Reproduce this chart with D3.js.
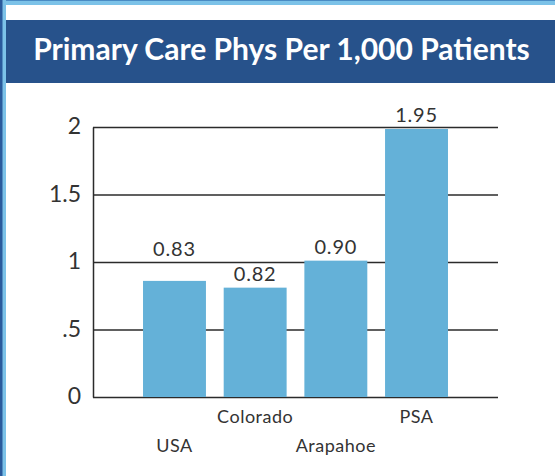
<!DOCTYPE html>
<html>
<head>
<meta charset="utf-8">
<script src="https://cdn.jsdelivr.net/npm/d3@7"></script>
<style>
  body { margin: 0; background: #fff; overflow: hidden; }
  svg { display: block; }
  text { font-family: Lato, 'Open Sans', sans-serif; }
</style>
</head>
<body>
<div id="chart"></div>
<script>
const categories = ['USA', 'Colorado', 'Arapahoe', 'PSA']
// bar heights as drawn in the picture
const values = [0.86, 0.81, 1.01, 1.985]
// value labels as printed above the bars
const valueLabels = ['0.83', '0.82', '0.90', '1.95']
const yTicks = [0, 0.5, 1, 1.5, 2]
const yTickLabels = ['0', '.5', '1', '1.5', '2']
const title = 'Primary Care Phys Per 1,000 Patients'

const width = 555
const height = 476
const margin = { left: 93, right: 57, top: 127, bottom: 79 }
const innerWidth = width - margin.left - margin.right
const innerHeight = height - margin.top - margin.bottom

const svg = d3.select('#chart')
  .append('svg')
  .attr('width', width)
  .attr('height', height)

// frame
svg.append('rect').attr('x', 0).attr('y', 0).attr('width', width).attr('height', 5).attr('fill', '#7cc2e8')
svg.append('rect').attr('x', 0).attr('y', 0).attr('width', width).attr('height', 1).attr('fill', '#4a8cc4')
svg.append('rect').attr('x', 0).attr('y', 0).attr('width', 6).attr('height', height).attr('fill', '#7cc2e8')
svg.append('rect').attr('x', 0).attr('y', 0).attr('width', 2.5).attr('height', height).attr('fill', '#2a5a9c')

// header
svg.append('rect')
  .attr('x', 6)
  .attr('y', 20)
  .attr('width', width - 6)
  .attr('height', 63)
  .attr('fill', '#27528b')

const titleText = svg.append('text')
  .attr('x', 281.5)
  .attr('y', 60)
  .attr('text-anchor', 'middle')
  .attr('fill', '#fff')
  .style('font-weight', 'bold')
  .style('font-size', '25px')
  .text(title)
const tw = titleText.node().getComputedTextLength()
titleText.style('font-size', (25 * 497 / tw) + 'px')

const g = svg.append('g')
  .attr('transform', `translate(${margin.left},${margin.top})`)

const x = d3.scaleBand()
  .domain(categories)
  .range([0, innerWidth])
  .paddingInner(0.22)
  .paddingOuter(0.62)

const y = d3.scaleLinear()
  .domain([0, 2])
  .range([innerHeight, 0])

const yAxis = d3.axisLeft(y)
  .tickValues(yTicks)
  .tickFormat((d, i) => yTickLabels[i])
  .tickSize(-innerWidth)
  .tickSizeOuter(0)
  .tickPadding(12)

const yAxisG = g.append('g').call(yAxis)
  .attr('font-size', null)
  .attr('font-family', null)
yAxisG.select('.domain').attr('stroke', '#2b2b2b').attr('stroke-width', 1.5)
yAxisG.selectAll('.tick line').attr('stroke', '#2b2b2b').attr('stroke-width', 1.5)
yAxisG.selectAll('.tick text')
  .attr('fill', '#333')
  .attr('dy', '0.3em')
  .style('font-size', '23px')

// bars
g.selectAll('.bar')
  .data(categories)
  .enter()
  .append('rect')
  .attr('class', 'bar')
  .attr('x', d => x(d))
  .attr('y', (d, i) => y(values[i]))
  .attr('width', x.bandwidth())
  .attr('height', (d, i) => innerHeight - y(values[i]))
  .attr('fill', '#64b1d8')

// value labels sit just above the bar, but hop over a gridline they would touch
const capHeight = 14.5
function labelY (v) {
  let base = y(v) - 7
  yTicks.forEach(t => {
    const ly = y(t)
    if (ly < y(v) && ly > base - capHeight - 2 && ly < base + 2) {
      base = ly - 6
    }
  })
  return base
}

g.selectAll('.value')
  .data(categories)
  .enter()
  .append('text')
  .attr('class', 'value')
  .attr('x', d => x(d) + x.bandwidth() / 2)
  .attr('y', (d, i) => labelY(values[i]))
  .attr('text-anchor', 'middle')
  .attr('fill', '#333')
  .style('font-size', '20px')
  .style('letter-spacing', '0.8px')
  .text((d, i) => valueLabels[i])

// category labels, staggered in two rows
g.selectAll('.label')
  .data(categories)
  .enter()
  .append('text')
  .attr('class', 'label')
  .attr('x', d => x(d) + x.bandwidth() / 2)
  .attr('y', (d, i) => innerHeight + (i % 2 === 0 ? 54.5 : 26))
  .attr('text-anchor', 'middle')
  .attr('fill', '#333')
  .style('font-size', '18px')
  .style('letter-spacing', '0.5px')
  .text(d => d)
</script>
</body>
</html>
